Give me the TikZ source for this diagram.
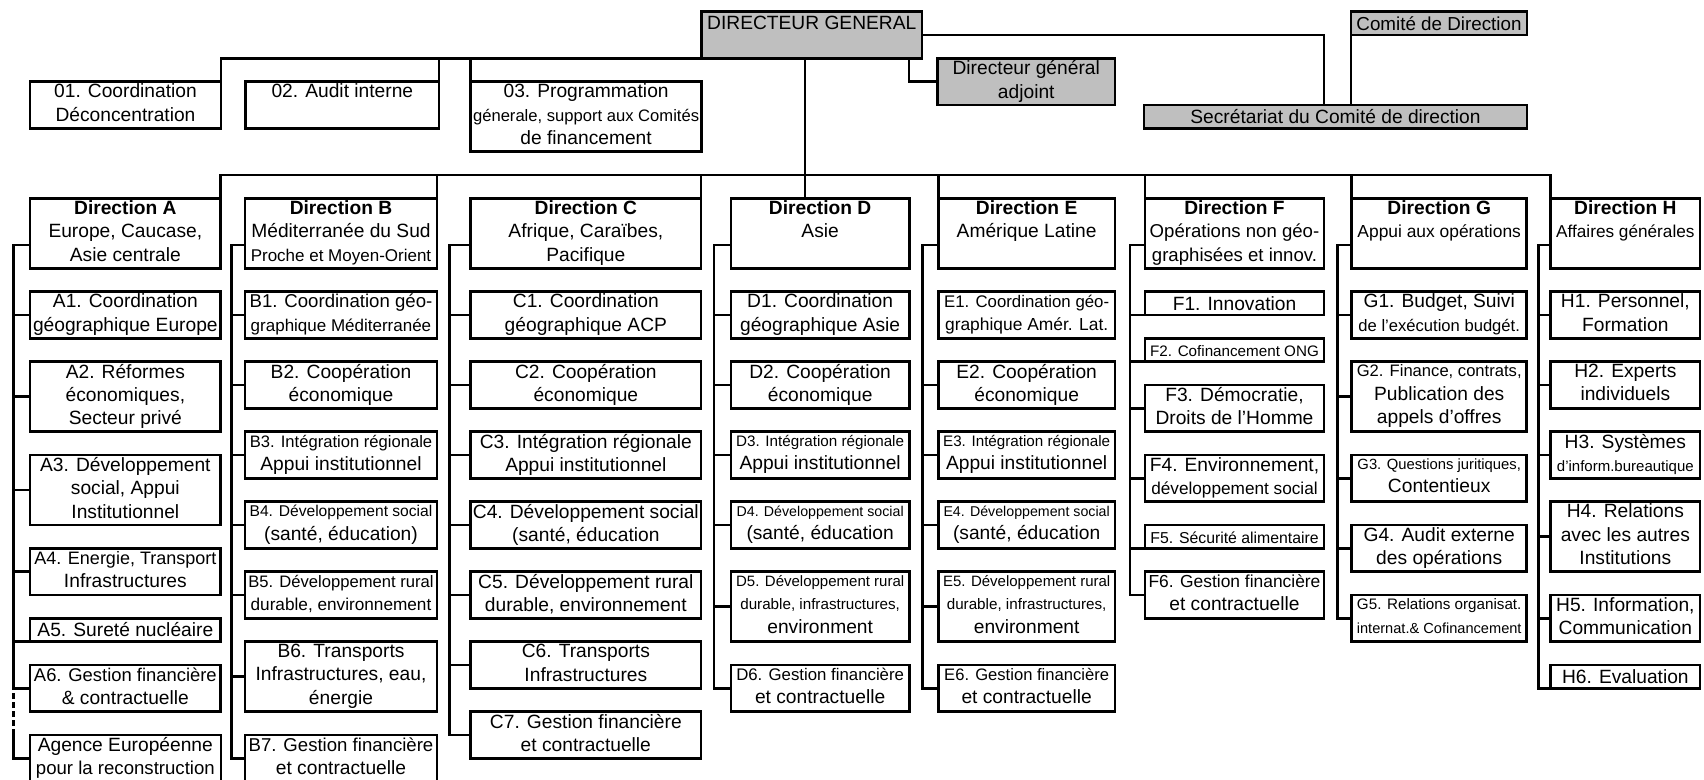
\documentclass[tikz,border=0pt]{standalone}
\usepackage{fontspec}
\setmainfont{Liberation Sans}
\newcommand\fs[1]{\fontsize{#1}{11.67}\selectfont}
\newcommand\rowstrut{\rule[-2.4pt]{0pt}{11.67pt}}
\newcommand\cell[7][]{%
  \node[unit,#1,minimum width={(#4-#3)*0.5pt},minimum height={(#6-#5)*11.667pt}]
    (#2) at ({(#3+#4)/2},{(#5+#6)/2}) {#7};}
\begin{document}
\begin{tikzpicture}[x=0.5pt, y=-11.667pt,
    unit/.style={draw, line width=1.4pt, inner sep=0pt, outer sep=0pt, align=center,
      font=\fs{9.6}, execute at begin node=\rowstrut, execute at end node=\rowstrut},
    grey/.style={fill=black!25},
    faint/.style={line width=0.8pt},
    link/.style={line width=1.4pt},
    stem/.style={line width=0.6pt}]
  \useasboundingbox (0,-0.5) rectangle (1704,32.886);

  \cell[grey]{dg}{701.5}{922}{0}{2}{\raisebox{-1.5pt}{DIRECTEUR GENERAL}\\}
  \cell[grey]{dga}{937.5}{1115}{2}{4}{Directeur général\\adjoint}
  \cell[grey]{cd}{1351}{1527}{0}{1}{\fs{9.4}Comité de Direction}
  \cell[grey]{scd}{1144}{1527}{4}{5}{Secrétariat du Comité de direction}
  \cell{o1}{30}{221}{3}{5}{01. Coordination\\Déconcentration}
  \cell{o2}{245.7}{439}{3}{5}{02. Audit interne\\}
  \cell{o3}{470.7}{701.5}{3}{6}{03. Programmation\\{\fs{8.3}génerale, support aux Comités}\\de financement}

  \cell{dA}{30}{220.7}{8}{11}{{\bfseries Direction A}\\Europe, Caucase,\\Asie centrale}
  \cell{a1}{30}{220.7}{12}{14}{A1. Coordination\\géographique Europe}
  \cell{a2}{30}{220.7}{15}{18}{A2. Réformes\\économiques,\\Secteur privé}
  \cell{a3}{30}{220.7}{19}{22}{A3. Développement\\social, Appui\\Institutionnel}
  \cell{a4}{30}{220.7}{23}{25}{{\fs{9}A4. Energie, Transport}\\Infrastructures}
  \cell{a5}{30}{220.7}{26}{27}{A5. Sureté nucléaire}
  \cell{a6}{30}{220.7}{28}{30}{{\fs{9.2}A6. Gestion financière}\\\& contractuelle}
  \cell[faint]{ag}{30}{220.7}{31}{33}{Agence Européenne\\{\fs{9.3}pour la reconstruction}}

  \cell{dB}{245}{437}{8}{11}{{\bfseries Direction B}\\Méditerranée du Sud\\{\fs{8.5}Proche et Moyen-Orient}}
  \cell{b1}{245}{437}{12}{14}{{\fs{9.3}B1. Coordination géo-}\\{\fs{8.5}graphique Méditerranée}}
  \cell{b2}{245}{437}{15}{17}{B2. Coopération\\économique}
  \cell{b3}{245}{437}{18}{20}{{\fs{8.3}B3. Intégration régionale}\\Appui institutionnel}
  \cell{b4}{245}{437}{21}{23}{{\fs{7.8}B4. Développement social}\\(santé, éducation)}
  \cell{b5}{245}{437}{24}{26}{{\fs{8.3}B5. Développement rural}\\{\fs{8.6}durable, environnement}}
  \cell{b6}{245}{437}{27}{30}{B6. Transports\\Infrastructures, eau,\\énergie}
  \cell{b7}{245}{437}{31}{33}{{\fs{9.3}B7. Gestion financière}\\et contractuelle}

  \cell{dC}{470.7}{701}{8}{11}{{\bfseries Direction C}\\Afrique, Caraïbes,\\Pacifique}
  \cell{c1}{470.7}{701}{12}{14}{C1. Coordination\\géographique ACP}
  \cell{c2}{470.7}{701}{15}{17}{C2. Coopération\\économique}
  \cell{c3}{470.7}{701}{18}{20}{C3. Intégration régionale\\Appui institutionnel}
  \cell{c4}{470.7}{701}{21}{23}{C4. Développement social\\(santé, éducation}
  \cell{c5}{470.7}{701}{24}{26}{C5. Développement rural\\durable, environnement}
  \cell{c6}{470.7}{701}{27}{29}{C6. Transports\\Infrastructures}
  \cell{c7}{470.7}{701}{30}{32}{C7. Gestion financière\\et contractuelle}

  \cell{dD}{731}{909.3}{8}{11}{{\bfseries Direction D}\\Asie\\}
  \cell{d1}{731}{909.3}{12}{14}{D1. Coordination\\géographique Asie}
  \cell{d2}{731}{909.3}{15}{17}{D2. Coopération\\économique}
  \cell{d3}{731}{909.3}{18}{20}{{\fs{7.6}D3. Intégration régionale}\\Appui institutionnel}
  \cell{d4}{731}{909.3}{21}{23}{{\fs{7.1}D4. Développement social}\\(santé, éducation}
  \cell{d5}{731}{909.3}{24}{27}{{\fs{7.5}D5. Développement rural}\\{\fs{7.6}durable, infrastructures,}\\environment}
  \cell{d6}{731}{909.3}{28}{30}{{\fs{8.4}D6. Gestion financière}\\et contractuelle}

  \cell{dE}{938.3}{1115}{8}{11}{{\bfseries Direction E}\\Amérique Latine\\}
  \cell{e1}{938.3}{1115}{12}{14}{{\fs{8.4}E1. Coordination géo-}\\{\fs{8.7}graphique Amér. Lat.}}
  \cell{e2}{938.3}{1115}{15}{17}{E2. Coopération\\économique}
  \cell{e3}{938.3}{1115}{18}{20}{{\fs{7.6}E3. Intégration régionale}\\Appui institutionnel}
  \cell{e4}{938.3}{1115}{21}{23}{{\fs{7.1}E4. Développement social}\\(santé, éducation}
  \cell{e5}{938.3}{1115}{24}{27}{{\fs{7.5}E5. Développement rural}\\{\fs{7.6}durable, infrastructures,}\\environment}
  \cell{e6}{938.3}{1115}{28}{30}{{\fs{8.3}E6. Gestion financière}\\et contractuelle}

  \cell{dF}{1145}{1324}{8}{11}{{\bfseries Direction F}\\{\fs{9.3}Opérations non géo-}\\{\fs{9.3}graphisées et innov.}}
  \cell{f1}{1145}{1324}{12}{13}{F1. Innovation}
  \cell{f2}{1145}{1324}{14}{15}{\fs{7.6}F2. Cofinancement ONG}
  \cell{f3}{1145}{1324}{16}{18}{F3. Démocratie,\\Droits de l'Homme}
  \cell{f4}{1145}{1324}{19}{21}{F4. Environnement,\\{\fs{8.6}développement social}}
  \cell{f5}{1145}{1324}{22}{23}{\fs{7.9}F5. Sécurité alimentaire}
  \cell{f6}{1145}{1324}{24}{26}{{\fs{8.7}F6. Gestion financière}\\et contractuelle}

  \cell{dG}{1351.7}{1526.7}{8}{11}{{\bfseries Direction G}\\{\fs{8.7}Appui aux opérations}\\}
  \cell{g1}{1351.7}{1526.7}{12}{14}{G1. Budget, Suivi\\{\fs{8.3}de l'exécution budgét.}}
  \cell{g2}{1351.7}{1526.7}{15}{18}{{\fs{8.3}G2. Finance, contrats,}\\Publication des\\appels d'offres}
  \cell{g3}{1351.7}{1526.7}{19}{21}{{\fs{7.4}G3. Questions juritiques,}\\Contentieux}
  \cell{g4}{1351.7}{1526.7}{22}{24}{G4. Audit externe\\des opérations}
  \cell{g5}{1351.7}{1526.7}{25}{27}{{\fs{7.6}G5. Relations organisat.}\\{\fs{7.3}internat.\& Cofinancement}}

  \cell{dH}{1550.7}{1700}{8}{11}{{\bfseries Direction H}\\{\fs{8.6}Affaires générales}\\}
  \cell{h1}{1550.7}{1700}{12}{14}{H1. Personnel,\\Formation}
  \cell{h2}{1550.7}{1700}{15}{17}{H2. Experts\\individuels}
  \cell{h3}{1550.7}{1700}{18}{20}{H3. Systèmes\\{\fs{7.5}d'inform.bureautique}}
  \cell{h4}{1550.7}{1700}{21}{24}{H4. Relations\\avec les autres\\Institutions}
  \cell{h5}{1550.7}{1700}{25}{27}{H5. Information,\\Communication}
  \cell{h6}{1550.7}{1700}{28}{29}{H6. Evaluation}

  \draw[link] (dg.south west) -| (o1.north east);
  \draw[link] (o2.north east) -- (o2.north east |- dg.south);
  \draw[link] (o3.north west) -- (o3.north west |- dg.south);
  \draw[link] (dg.south -| 909,0) |- (dga.west);
  \draw[link] (dg.east) -| (scd.north -| 1324,0);
  \draw[link] (cd.south west) -- (cd.south west |- scd.north);

  \coordinate (bus) at (805,7);
  \draw[stem] (dg.south -| bus) -- (dD.north -| bus);
  \draw[link] (dA.north east) |- (bus) -| (dH.north west);
  \foreach \n in {dB.north east,dC.north east,dE.north west,dF.north west,dG.north west}
    \draw[link] (\n) -- (\n |- bus);

  \draw[link] ([yshift=11.667pt]dA.south west) -- ++(-16.7,0) |- (a6.west);
  \foreach \n in {a1,a2,a3,a4} \draw[link] (\n.west) -- ++(-16.7,0);
  \draw[link] (a5.south west) -- ++(-16.7,0);
  \draw[link, dash pattern=on 3pt off 1.5pt] (ag.west) ++(-16.7,-1) -- ++(0,-2);
  \draw[link] (ag.west) -- ++(-16.7,0) -- ++(0,-1);

  \draw[link] ([yshift=11.667pt]dB.south west) -- ++(-13.3,0) |- (b7.west);
  \foreach \n in {b1,b2,b3,b4,b5,b6} \draw[link] (\n.west) -- ++(-13.3,0);

  \draw[link] ([yshift=11.667pt]dC.south west) -- ++(-21.4,0) |- (c7.west);
  \foreach \n in {c1,c2,c3,c4,c5,c6} \draw[link] (\n.west) -- ++(-21.4,0);

  \draw[link] ([yshift=11.667pt]dD.south west) -- ++(-17,0) |- (d6.west);
  \foreach \n in {d1,d2,d3,d4,d5} \draw[link] (\n.west) -- ++(-17,0);

  \draw[link] ([yshift=11.667pt]dE.south west) -- ++(-16,0) |- (e6.west);
  \foreach \n in {e2,e3,e4,e5} \draw[link] (\n.west) -- ++(-16,0);

  \draw[link] ([yshift=11.667pt]dF.south west) -- ++(-15,0) |- (f6.west);
  \foreach \n in {f3,f4} \draw[link] (\n.west) -- ++(-15,0);
  \foreach \n in {f1,f2,f5} \draw[link] (\n.south west) -- ++(-15,0);

  \draw[link] ([yshift=11.667pt]dG.south west) -- ++(-14.4,0) |- (g5.west);
  \foreach \n in {g1,g2,g3,g4} \draw[link] (\n.west) -- ++(-14.4,0);

  \draw[link] ([yshift=11.667pt]dH.south west) -- ++(-12.4,0) |- (h6.south west);
  \foreach \n in {h1,h2,h3,h4,h5} \draw[link] (\n.west) -- ++(-12.4,0);
\end{tikzpicture}
\end{document}
